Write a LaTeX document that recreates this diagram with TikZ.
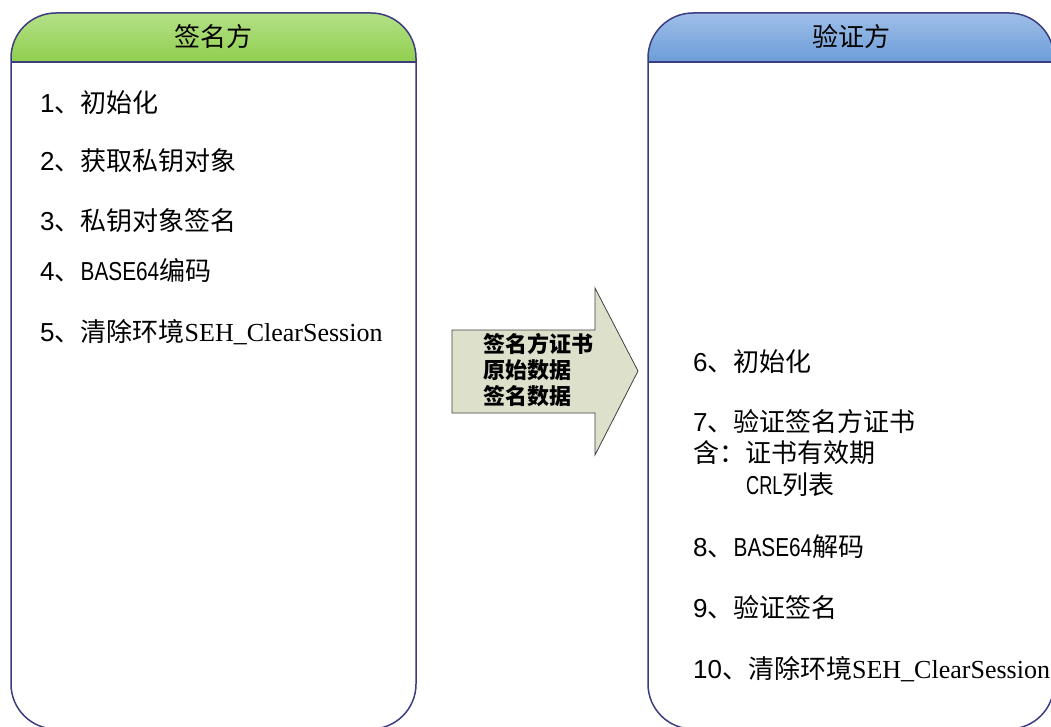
\documentclass[tikz,border=0pt]{standalone}
\usepackage{fontspec}
\usepackage{graphicx}
\setmainfont{Liberation Sans}
\newfontfamily\cjk{Noto Sans CJK SC}
\newfontfamily\tms{Liberation Serif}
\definecolor{navy}{HTML}{3C3C80}
\definecolor{greentop}{HTML}{B4E088}
\definecolor{greenbot}{HTML}{90CF4E}
\definecolor{bluetop}{HTML}{9FBEE8}
\definecolor{bluebot}{HTML}{6B9DD8}
\definecolor{arrowfill}{HTML}{DDE0CB}
\newcommand{\cond}[2]{\scalebox{#1}[1]{#2}}
\begin{document}
\begin{tikzpicture}[x=1pt,y=-1pt,
  boxline/.style={draw=navy,line width=1.5pt},
  item/.style={anchor=base west,inner sep=0pt,font=\fontsize{26}{30}\selectfont},
  head/.style={anchor=center,inner sep=0pt,font=\fontsize{26}{30}\selectfont\cjk},
  payload/.style={anchor=base west,inner sep=0pt,font=\fontsize{22}{26}\selectfont\cjk\bfseries}]
\useasboundingbox[fill=white] (0,0) rectangle (1051,727);
% left panel
\begin{scope}
  \clip[rounded corners=45] (11,13) rectangle (416,729);
  \shade[top color=greentop,bottom color=greenbot] (11,13) rectangle (416,62);
\end{scope}
\draw[boxline] (11,62) -- (416,62);
\draw[boxline,rounded corners=45] (11,13) rectangle (416,729);
% right panel
\begin{scope}
  \clip[rounded corners=45] (648,13) rectangle (1054,729);
  \shade[top color=bluetop,bottom color=bluebot] (648,13) rectangle (1054,62);
\end{scope}
\draw[boxline] (648,62) -- (1054,62);
\draw[boxline,rounded corners=45] (648,13) rectangle (1054,729);
% headers
\node[head] (hsign) at (213.5,37) {签名方};
\node[head] (hverify) at (851,37) {验证方};
% left items
\node[item] (s1) at (40,113) {1{\cjk 、初始化}};
\node[item] (s2) at (40,171) {2{\cjk 、获取私钥对象}};
\node[item] (s3) at (40,231) {3{\cjk 、私钥对象签名}};
\node[item] (s4) at (40,280) {4{\cjk 、}\cond{0.8}{BASE64}{\cjk 编码}};
\node[item] (s5) at (40,341) {5{\cjk 、清除环境}{\tms SEH\_ClearSession}};
% arrow
\draw[draw=black!75,line width=0.8pt,fill=arrowfill]
  (452,330) -- (595,330) -- (595,288) -- (638,371) -- (595,455) -- (595,413) -- (452,413) -- cycle;
\node[payload] (p1) at (483,352) {签名方证书};
\node[payload] (p2) at (483,378) {原始数据};
\node[payload] (p3) at (483,404) {签名数据};
% right items
\node[item] (v6) at (693,371) {6{\cjk 、初始化}};
\node[item] (v7) at (693,431) {7{\cjk 、验证签名方证书}};
\node[item] (v7a) at (693,462) {\cjk 含：证书有效期};
\node[item] (v7b) at (746,494) {\cond{0.7}{CRL}{\cjk 列表}};
\node[item] (v8) at (693,556) {8{\cjk 、}\cond{0.8}{BASE64}{\cjk 解码}};
\node[item] (v9) at (693,617) {9{\cjk 、验证签名}};
\node[item] (v10) at (693,678) {10{\cjk 、清除环境}{\tms SEH\_ClearSession}};
\end{tikzpicture}
\end{document}
